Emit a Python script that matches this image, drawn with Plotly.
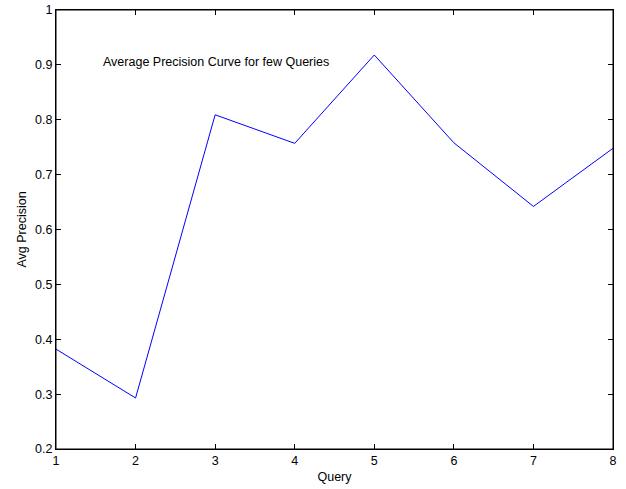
import plotly.graph_objects as go

queries = [1, 2, 3, 4, 5, 6, 7, 8]
avg_precision = [0.382, 0.293, 0.809, 0.757, 0.918, 0.758, 0.642, 0.748]
y_ticks = [0.2, 0.3, 0.4, 0.5, 0.6, 0.7, 0.8, 0.9, 1]
y_tick_labels = ["0.2", "0.3", "0.4", "0.5", "0.6", "0.7", "0.8", "0.9", "1"]
title_text = "Average Precision Curve for few Queries"

FS = 12.5

fig = go.Figure()
fig.add_trace(go.Scatter(x=queries, y=avg_precision, mode="lines",
                         line=dict(color="#0000ff", width=1), showlegend=False,
                         cliponaxis=False))

fig.add_annotation(x=1.565, y=0.905, xref="x", yref="y", text=title_text,
                   showarrow=False, xanchor="left", yanchor="middle",
                   font=dict(size=FS, color="black"))

axis_common = dict(showgrid=False, zeroline=False, showline=True, linecolor="black",
                   linewidth=1, mirror="ticks", ticks="inside", ticklen=5,
                   tickcolor="black", tickfont=dict(size=FS, color="black"),
                   automargin=False)

fig.update_xaxes(range=[1, 8], tickvals=queries, ticktext=[str(q) for q in queries],
                 title=dict(text="Query", font=dict(size=FS, color="black"), standoff=5),
                 **axis_common)
fig.update_yaxes(range=[0.2, 1], tickvals=y_ticks, ticktext=y_tick_labels,
                 title=dict(text="Avg Precision", font=dict(size=FS, color="black"), standoff=5),
                 **axis_common)

fig.add_shape(type="rect", xref="paper", yref="paper", x0=0, y0=0, x1=1, y1=1,
              line=dict(color="black", width=1), layer="above")

fig.update_layout(width=626, height=489, plot_bgcolor="white", paper_bgcolor="white",
                  margin=dict(l=56, r=13, t=10, b=40),
                  font=dict(family="Liberation Sans, Arial, sans-serif", size=FS, color="black"))

fig.write_html("out.html", config={"displayModeBar": False},
               post_script="document.body.style.margin='0';document.body.style.padding='0';")
